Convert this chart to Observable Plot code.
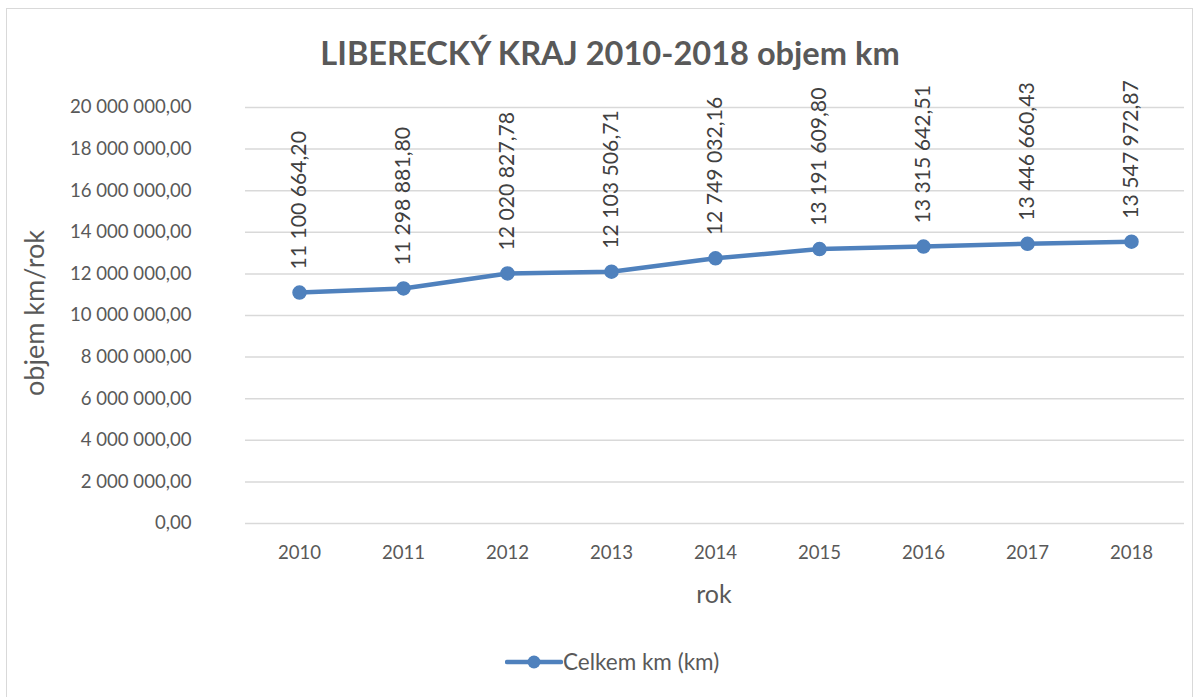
<!DOCTYPE html>
<html>
<head>
<meta charset="utf-8">
<script src="https://cdn.jsdelivr.net/npm/d3@7"></script>
<script src="https://cdn.jsdelivr.net/npm/@observablehq/plot@0.6"></script>
<style>
  body { margin: 0; background: #fff; font-family: Lato, sans-serif; }
  #wrap { position: relative; width: 1200px; height: 697px; overflow: hidden; }
  #frame { position: absolute; left: 6px; top: 8px; width: 1187px; height: 700px; border: 1px solid #d9d9d9; box-sizing: border-box; }
  #chart { position: absolute; left: 0; top: 0; }
  .ov { position: absolute; color: #595959; white-space: nowrap; line-height: 1; }
  #title { left: 0; width: 1220px; top: 37px; text-align: center; font-weight: bold; font-size: 32.6px; }
  #ytitle { left: 33px; top: 313px; transform: translate(-50%, -50%) rotate(-90deg); font-size: 27px; }
  #xtitle { left: 714px; top: 593px; transform: translate(-50%, -50%); font-size: 25px; }
  #legend { left: 505px; top: 651px; display: flex; align-items: center; font-size: 22.5px; }
</style>
</head>
<body>
<div id="wrap">
  <div id="frame"></div>
  <div id="chart"></div>
  <div class="ov" id="title"></div>
  <div class="ov" id="ytitle"></div>
  <div class="ov" id="xtitle"></div>
  <div class="ov" id="legend"></div>
</div>
<script>
const titleText = "LIBERECKÝ KRAJ 2010-2018 objem km";
const yTitle = "objem km/rok";
const xTitle = "rok";
const seriesName = "Celkem km (km)";
const years = ["2010","2011","2012","2013","2014","2015","2016","2017","2018"];
const values = [11100664.20, 11298881.80, 12020827.78, 12103506.71, 12749032.16, 13191609.80, 13315642.51, 13446660.43, 13547972.87];
const yTicks = [0, 2e6, 4e6, 6e6, 8e6, 10e6, 12e6, 14e6, 16e6, 18e6, 20e6];

const color = "#4f81bd";
const textColor = "#595959";
const fmt = d3.formatLocale({decimal: ",", thousands: " ", grouping: [3], currency: ["", ""]}).format(",.2f");

const data = years.map((y, i) => ({year: y, value: values[i]}));

const chart = Plot.plot({
  width: 1200,
  height: 697,
  marginTop: 107,
  marginBottom: 174,
  marginLeft: 245,
  marginRight: 16,
  style: { fontFamily: "Lato, sans-serif", color: textColor, background: "transparent", overflow: "visible" },
  x: { type: "point", domain: years, padding: 0.5, label: null },
  y: { domain: [0, 20e6], label: null },
  marks: [
    Plot.gridY(yTicks, { stroke: "#d9d9d9", strokeOpacity: 1, strokeWidth: 1.5 }),
    Plot.axisY(yTicks, { tickSize: 0, tickPadding: 54, tickFormat: fmt, fontSize: 18.6, fill: textColor, label: null }),
    Plot.axisX(years, { tickSize: 0, tickPadding: 22, fontSize: 18.6, fill: textColor, label: null }),
    Plot.line(data, { x: "year", y: "value", stroke: color, strokeWidth: 4.5 }),
    Plot.dot(data, { x: "year", y: "value", r: 6.5, fill: color, stroke: color }),
    Plot.text(data, { x: "year", y: "value", text: d => fmt(d.value), rotate: -90, textAnchor: "start", dy: -23, fontSize: 21.2, fill: "#404040" })
  ]
});
document.getElementById("chart").appendChild(chart);

document.getElementById("title").textContent = titleText;
document.getElementById("ytitle").textContent = yTitle;
document.getElementById("xtitle").textContent = xTitle;

const leg = document.getElementById("legend");
const ns = "http://www.w3.org/2000/svg";
const sw = document.createElementNS(ns, "svg");
sw.setAttribute("width", 58); sw.setAttribute("height", 20);
const ln = document.createElementNS(ns, "line");
ln.setAttribute("x1", 2); ln.setAttribute("x2", 56); ln.setAttribute("y1", 10); ln.setAttribute("y2", 10);
ln.setAttribute("stroke", color); ln.setAttribute("stroke-width", 4.5); ln.setAttribute("stroke-linecap", "round");
const ci = document.createElementNS(ns, "circle");
ci.setAttribute("cx", 29); ci.setAttribute("cy", 10); ci.setAttribute("r", 6.5); ci.setAttribute("fill", color);
sw.appendChild(ln); sw.appendChild(ci);
leg.appendChild(sw);
const lt = document.createElement("span");
lt.textContent = seriesName;
leg.appendChild(lt);
</script>
</body>
</html>
